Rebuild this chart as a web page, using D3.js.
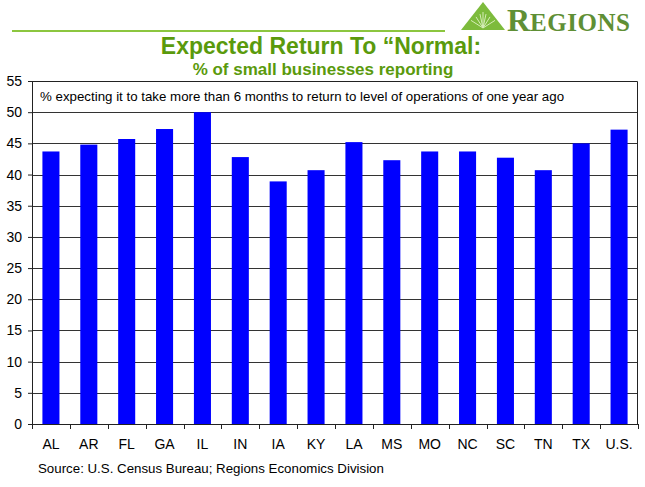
<!DOCTYPE html>
<html>
<head>
<meta charset="utf-8">
<script src="https://cdn.jsdelivr.net/npm/d3@7"></script>
<style>
  body { margin: 0; background: #fff; }
  text { font-family: "Liberation Sans", Arial, sans-serif; }
</style>
</head>
<body>
<svg class="chart"></svg>
<script>
// Chart data.
var states = ["AL", "AR", "FL", "GA", "IL", "IN", "IA", "KY", "LA", "MS", "MO", "NC", "SC", "TN", "TX", "U.S."];
var pctExpecting = [43.7, 44.8, 45.7, 47.3, 50.0, 42.8, 38.9, 40.7, 45.2, 42.3, 43.7, 43.7, 42.7, 40.7, 45.0, 47.2];
var yTicks = [0, 5, 10, 15, 20, 25, 30, 35, 40, 45, 50, 55];

var width = 645, height = 487;
var margin = { top: 81, right: 7, bottom: 63, left: 32 };
var plotW = width - margin.left - margin.right;
var plotH = height - margin.top - margin.bottom;

var svg = d3.select(".chart")
    .attr("width", width)
    .attr("height", height);

// Header: rule and logo
svg.append("line")
    .attr("x1", 12).attr("x2", 445)
    .attr("y1", 31).attr("y2", 31)
    .attr("stroke", "#8cc63f")
    .attr("stroke-width", 2);

var logo = svg.append("g").attr("transform", "translate(461,2)");
logo.append("path")
    .attr("d", "M22,0 L44,28 L0,28 Z")
    .attr("fill", "#7dbb3c");
// fan of light rays in the triangle
[-12, -7, -3, 0, 3, 7, 12].forEach(function (dx) {
    logo.append("line")
        .attr("x1", 22).attr("y1", 26)
        .attr("x2", 22 + dx).attr("y2", 10 + Math.abs(dx) * 0.7)
        .attr("stroke", "#d6edb8")
        .attr("stroke-width", 1);
});

var brand = svg.append("text")
    .attr("x", 507).attr("y", 31)
    .attr("fill", "#5f8f35")
    .style("font-family", "'Liberation Serif', 'DejaVu Serif', serif")
    .style("font-weight", "bold");
brand.append("tspan").style("font-size", "32px").text("R");
brand.append("tspan").style("font-size", "25px").attr("letter-spacing", 0.5).text("EGIONS");

// Titles
svg.append("text")
    .attr("x", 321).attr("y", 54)
    .attr("text-anchor", "middle")
    .attr("fill", "#5a9a0c")
    .style("font-size", "23px")
    .style("font-weight", "bold")
    .text("Expected Return To \u201cNormal:");

svg.append("text")
    .attr("x", 323).attr("y", 75)
    .attr("text-anchor", "middle")
    .attr("fill", "#5a9a0c")
    .style("font-size", "17px")
    .style("font-weight", "bold")
    .text("% of small businesses reporting");

var g = svg.append("g")
    .attr("transform", "translate(" + margin.left + "," + margin.top + ")");

var x = d3.scaleBand()
    .domain(states)
    .range([0, plotW])
    .paddingInner(0.55)
    .paddingOuter(0.275);

var y = d3.scaleLinear()
    .domain([0, 55])
    .range([plotH, 0]);

// Gridlines
g.selectAll(".grid")
    .data(yTicks.filter(function (d) { return d > 0 && d < 55; }))
    .enter()
    .append("line")
    .attr("class", "grid")
    .attr("x1", 0).attr("x2", plotW)
    .attr("y1", function (d) { return Math.round(y(d)) + 0.5; })
    .attr("y2", function (d) { return Math.round(y(d)) + 0.5; })
    .attr("stroke", "#333")
    .attr("stroke-width", 1);

// Bars
g.selectAll(".bar")
    .data(pctExpecting)
    .enter()
    .append("rect")
    .attr("class", "bar")
    .attr("x", function (d, i) { return x(states[i]); })
    .attr("y", function (d) { return y(d); })
    .attr("width", x.bandwidth())
    .attr("height", function (d) { return plotH - y(d); })
    .attr("fill", "#0000ff");

// Plot border (top and right)
g.append("path")
    .attr("d", "M0,0.5 H" + (plotW - 0.5) + " V" + plotH)
    .attr("fill", "none")
    .attr("stroke", "#222");

// Caption box text
g.append("text")
    .attr("x", 8).attr("y", 20)
    .attr("fill", "#000")
    .style("font-size", "13.3px")
    .text("% expecting it to take more than 6 months to return to level of operations of one year ago");

// Y axis
var yAxis = g.append("g")
    .call(d3.axisLeft(y).tickValues(yTicks).tickSize(4).tickPadding(6));
yAxis.selectAll("text")
    .style("font-size", "14px")
    .style("font-family", "'Liberation Sans', Arial, sans-serif")
    .attr("fill", "#000");
yAxis.selectAll("line").attr("stroke", "#222");
yAxis.select(".domain").attr("stroke", "#222");

// X axis: ticks at category boundaries
var xAxis = g.append("g")
    .attr("transform", "translate(0," + plotH + ")");
xAxis.append("line")
    .attr("x1", 0).attr("x2", plotW)
    .attr("y1", 0.5).attr("y2", 0.5)
    .attr("stroke", "#222");
xAxis.selectAll(".xtick")
    .data(states.concat(["end"]))
    .enter()
    .append("line")
    .attr("class", "xtick")
    .attr("x1", function (d, i) { return Math.round(i * x.step()) + 0.5; })
    .attr("x2", function (d, i) { return Math.round(i * x.step()) + 0.5; })
    .attr("y1", 0).attr("y2", 5)
    .attr("stroke", "#222");
xAxis.selectAll(".xlabel")
    .data(states)
    .enter()
    .append("text")
    .attr("class", "xlabel")
    .attr("x", function (d) { return x(d) + x.bandwidth() / 2; })
    .attr("y", 25)
    .attr("text-anchor", "middle")
    .attr("fill", "#000")
    .style("font-size", "14px")
    .text(function (d) { return d; });

// Source
svg.append("text")
    .attr("x", 38).attr("y", 473)
    .attr("fill", "#000")
    .style("font-size", "13.3px")
    .text("Source: U.S. Census Bureau; Regions Economics Division");
</script>
</body>
</html>
